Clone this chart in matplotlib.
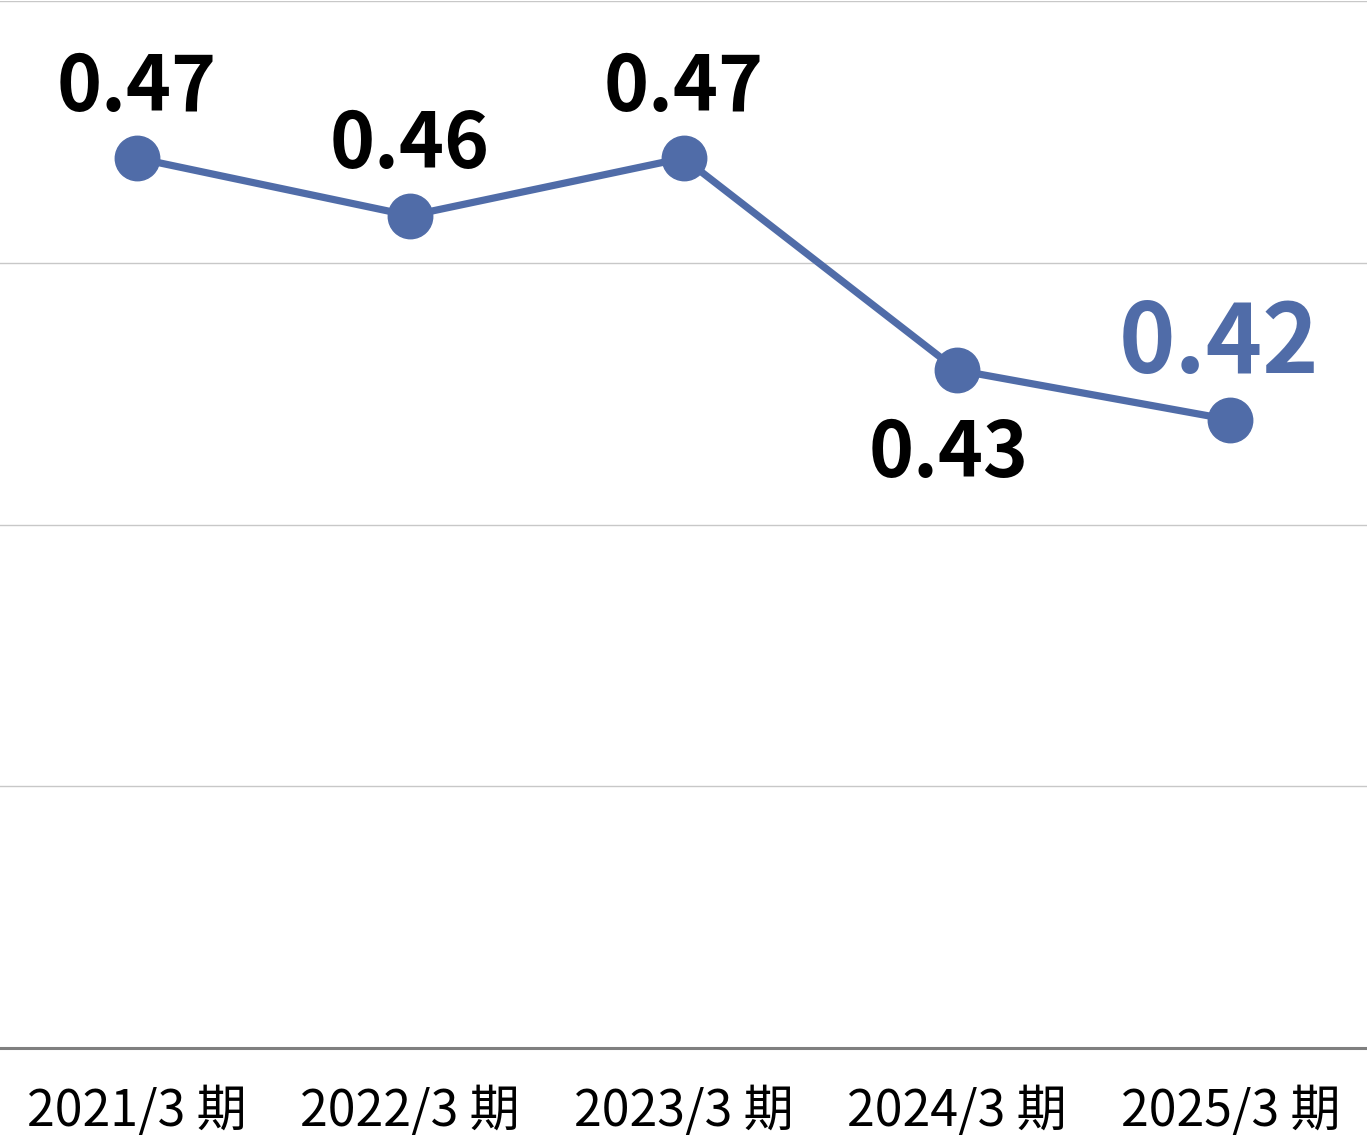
import matplotlib.pyplot as plt

plt.rcParams["font.family"] = ["Noto Sans CJK JP", "DejaVu Sans"]

periods = ["2021/3 期", "2022/3 期", "2023/3 期", "2024/3 期", "2025/3 期"]
values = [0.47, 0.459, 0.47, 0.4295, 0.42]
value_labels = ["0.47", "0.46", "0.47", "0.43", "0.42"]
label_below = [False, False, False, True, False]

BLUE = "#506CA8"

fig = plt.figure(figsize=(13.67, 11.35), dpi=100)
ax = fig.add_axes([0, 1 - 1048 / 1135, 1, 1047 / 1135])

x = list(range(len(periods)))
ax.plot(x, values, color=BLUE, lw=5.2, marker="o", markersize=32, zorder=3)

for i, (v, lab, below) in enumerate(zip(values, value_labels, label_below)):
    last = i == len(values) - 1
    if below:
        ax.annotate(lab, (i, v), xytext=(-6, -77), textcoords="offset points",
                    ha="center", va="baseline", fontsize=55, fontweight="bold",
                    color="black")
    elif last:
        ax.annotate(lab, (i, v), xytext=(-8, 34), textcoords="offset points",
                    ha="center", va="baseline", fontsize=69, fontweight="bold",
                    color=BLUE)
    else:
        ax.annotate(lab, (i, v), xytext=(0, 34), textcoords="offset points",
                    ha="center", va="baseline", fontsize=55, fontweight="bold",
                    color="black")

ax.set_xlim(-0.5, 4.5)
ax.set_ylim(0.30, 0.50)
ax.set_yticks([0.30, 0.35, 0.40, 0.45, 0.50])
ax.yaxis.grid(True, color="#c8c8c8", lw=1)
ax.set_axisbelow(True)
ax.tick_params(axis="y", left=False, labelleft=False)
ax.set_xticks(x)
ax.set_xticklabels(periods, fontsize=36)
ax.tick_params(axis="x", length=0, pad=27)

for side in ["top", "left", "right"]:
    ax.spines[side].set_visible(False)
ax.spines["bottom"].set_color("#7f7f7f")
ax.spines["bottom"].set_linewidth(2.2)

fig.savefig("out.png", dpi=100)
